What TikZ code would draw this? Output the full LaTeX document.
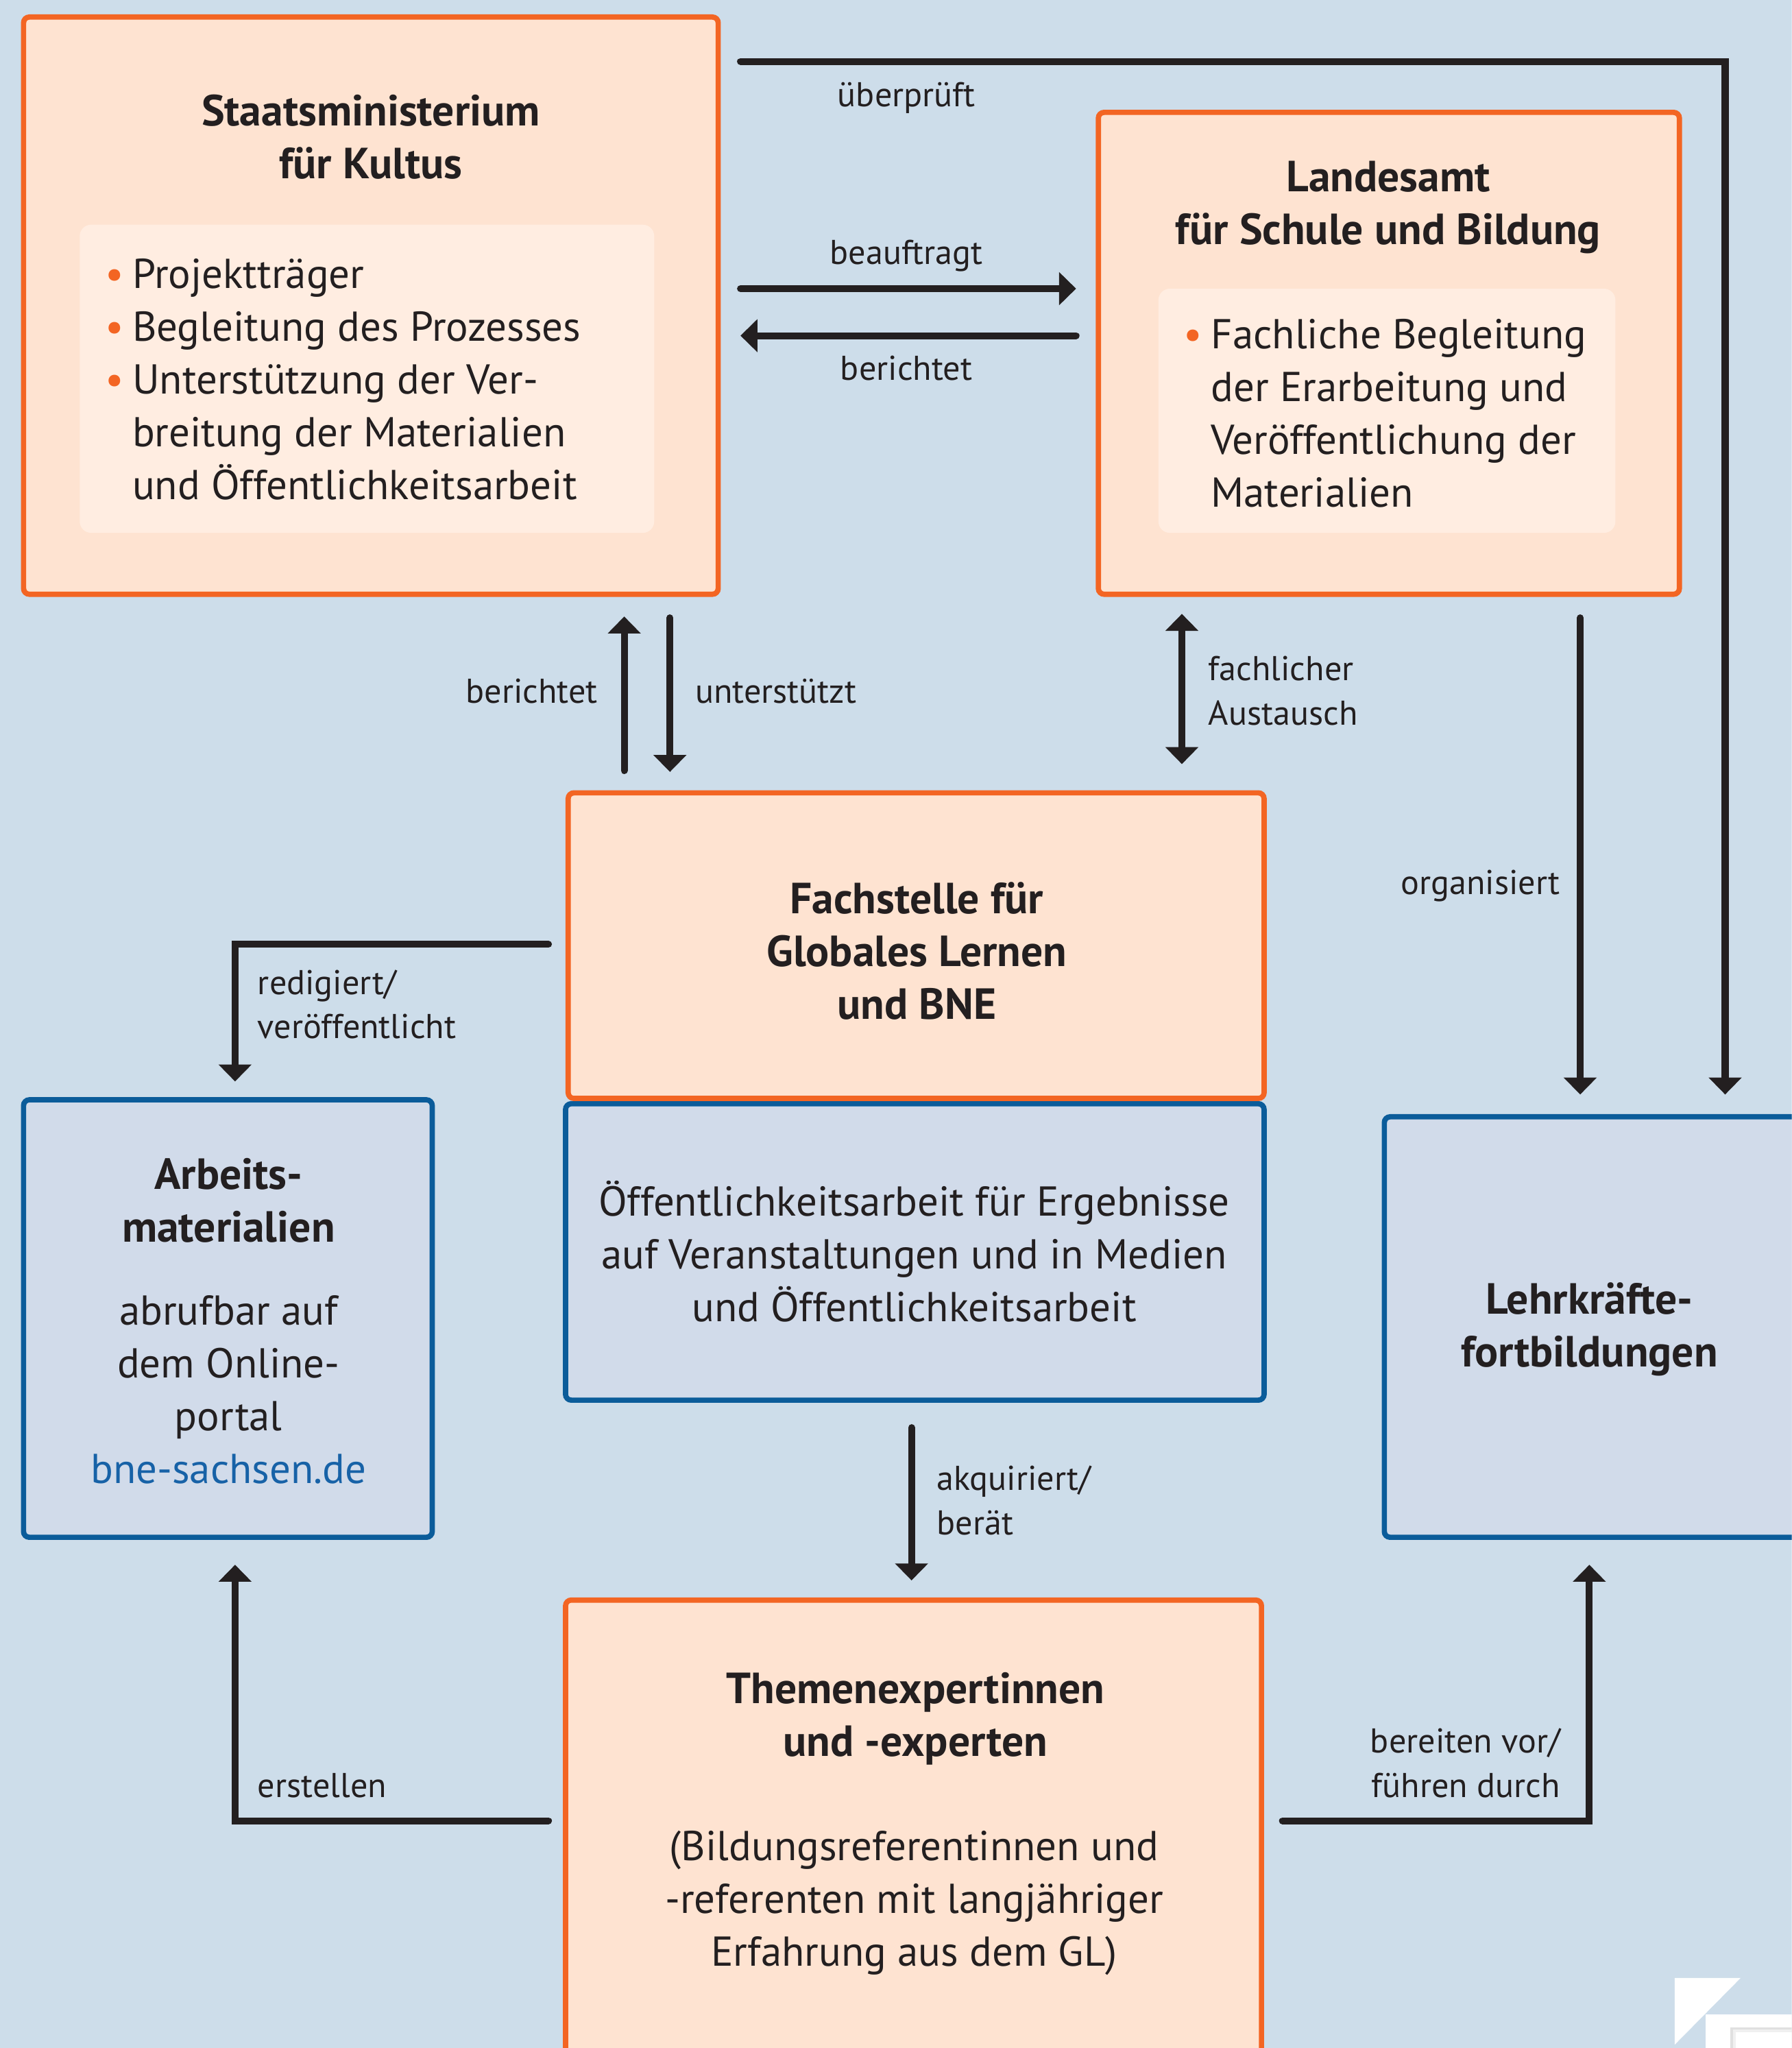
\documentclass[tikz,border=0pt]{standalone}
\usepackage{fontspec}
\setmainfont{PT Sans}
\usetikzlibrary{arrows.meta}
\definecolor{bgblue}{HTML}{CDDDEA}
\definecolor{oline}{HTML}{F36523}
\definecolor{ofill}{HTML}{FEE3D1}
\definecolor{ifill}{HTML}{FFEDE1}
\definecolor{bline}{HTML}{0B5C9A}
\definecolor{bfill}{HTML}{D1DBEA}
\definecolor{ink}{HTML}{231F20}
\definecolor{link}{HTML}{1762A7}
\newcommand\listdot{\makebox[0.42cm][l]{\textcolor{oline}{\textbullet}}}
\newcommand\listgap{\hspace*{0.42cm}}
\begin{document}
\begin{tikzpicture}[x=0.02cm,y=-0.02cm]
\tikzstyle{every node}+=[inner sep=0pt, text=ink]
\tikzstyle{obox}=[draw=oline, fill=ofill, line width=2.3pt, rounded corners=2.5pt]
\tikzstyle{bbox}=[draw=bline, fill=bfill, line width=2.3pt, rounded corners=2.5pt]
\tikzstyle{ibox}=[fill=ifill, rounded corners=5pt]
\tikzstyle{head}=[font=\bfseries\fontsize{19}{23}\selectfont, align=center]
\tikzstyle{body}=[font=\fontsize{18.2}{23}\selectfont, align=center]
\tikzstyle{list}=[font=\fontsize{18.2}{23}\selectfont, align=left, anchor=west]
\tikzstyle{lbl}=[font=\fontsize{15}{19.4}\selectfont]
\tikzstyle{conn}=[draw=ink, line width=3pt, line cap=round, >={Triangle[length=7.4pt,width=14pt]}, ->]
\useasboundingbox (0,0) rectangle (1372,1568);
\clip (0,0) rectangle (1372,1568);
\fill [bgblue] (0,0) rectangle (1372,1568);
\node [obox, minimum width=10.64cm, minimum height=8.84cm] (smk) at (284,234) {};
\node [ibox, minimum width=8.8cm, minimum height=4.72cm] (smklist) at (281,290) {};
\node [head] (smktitle) at (284,105) {Staatsministerium\\für Kultus};
\node [list] (smkitems) at (80,290.5) {\listdot Projektträger\\\listdot Begleitung des Prozesses\\\listdot Unterstützung der Ver-\\\listgap breitung der Materialien\\\listgap und Öffentlichkeitsarbeit};
\node [obox, minimum width=8.9cm, minimum height=7.38cm] (lasub) at (1063.5,270.5) {};
\node [ibox, minimum width=7cm, minimum height=3.74cm] (lasublist) at (1062,314.5) {};
\node [head] (lasubtitle) at (1063,159) {Landesamt\\für Schule und Bildung};
\node [list] (lasubitems) at (906,316.5) {\listdot Fachliche Begleitung\\\listgap der Erarbeitung und\\\listgap Veröffentlichung der\\\listgap Materialien};
\node [bbox, minimum width=10.7cm, minimum height=4.54cm] (oeff) at (700.5,958.5) {};
\node [body] (oefftext) at (700,958) {Öffentlichkeitsarbeit für Ergebnisse\\auf Veranstaltungen und in Medien\\und Öffentlichkeitsarbeit};
\node [obox, minimum width=10.66cm, minimum height=4.68cm] (fach) at (701.5,724) {};
\node [head] (fachtitle) at (702,728) {Fachstelle für\\Globales Lernen\\und BNE};
\node [bbox, minimum width=6.26cm, minimum height=6.7cm] (mat) at (174.5,1009.5) {};
\node [head] (mattitle) at (175,919) {Arbeits-\\materialien};
\node [body] (mattext) at (175,1064) {abrufbar auf\\dem Online-\\portal\\\textcolor{link}{bne-sachsen.de}};
\node [bbox, minimum width=6.5cm, minimum height=6.44cm] (fortb) at (1222.5,1016) {};
\node [head] (fortbtitle) at (1217,1018) {Lehrkräfte-\\fortbildungen};
\node [obox, minimum width=10.66cm, minimum height=7.5cm] (exp) at (699.5,1412.5) {};
\node [head] (exptitle) at (701,1316) {Themenexpertinnen\\und -experten};
\node [body] (exptext) at (700,1457) {(Bildungsreferentinnen und\\-referenten mit langjähriger\\Erfahrung aus dem GL)};
\coordinate (pruefS) at (567,47);
\coordinate (pruefE) at (1321,838);
\coordinate (auftrS) at (567,221);
\coordinate (auftrE) at (824,221);
\coordinate (berS) at (824,257);
\coordinate (berE) at (567,257);
\coordinate (upS) at (478,590);
\coordinate (upE) at (478,472);
\coordinate (unterS) at (513,473);
\coordinate (unterE) at (513,591);
\coordinate (ausS) at (905,470);
\coordinate (ausE) at (905,585);
\coordinate (orgS) at (1210,473);
\coordinate (orgE) at (1210,838);
\coordinate (redS) at (420,723);
\coordinate (redE) at (180,828);
\coordinate (akqS) at (698,1093);
\coordinate (akqE) at (698,1210);
\coordinate (erstS) at (420,1394);
\coordinate (erstE) at (180,1198);
\coordinate (bereitS) at (982,1394);
\coordinate (bereitE) at (1217,1198);
\draw [conn] (pruefS) -| (pruefE);
\draw [conn] (auftrS) -- (auftrE);
\draw [conn] (berS) -- (berE);
\draw [conn] (upS) -- (upE);
\draw [conn] (unterS) -- (unterE);
\draw [conn, <->] (ausS) -- (ausE);
\draw [conn] (orgS) -- (orgE);
\draw [conn] (redS) -| (redE);
\draw [conn] (akqS) -- (akqE);
\draw [conn] (erstS) -| (erstE);
\draw [conn] (bereitS) -| (bereitE);
\node [lbl] (lpruef) at (694,75) {überprüft};
\node [lbl] (lauftr) at (694,196) {beauftragt};
\node [lbl] (lber) at (694,282) {berichtet};
\node [lbl, anchor=east] (lup) at (458,529) {berichtet};
\node [lbl, anchor=west] (lunter) at (532,529) {unterstützt};
\node [lbl, anchor=west, align=left] (laus) at (925,529) {fachlicher\\Austausch};
\node [lbl, anchor=east] (lorg) at (1195,678) {organisiert};
\node [lbl, anchor=west, align=left] (lred) at (197,769) {redigiert/\\veröffentlicht};
\node [lbl, anchor=west, align=left] (lakq) at (717,1149) {akquiriert/\\berät};
\node [lbl, anchor=west] (lerst) at (197,1367) {erstellen};
\node [lbl, anchor=east, align=right] (lbereit) at (1195,1350) {bereiten vor/\\führen durch};
\fill [white] (1282.4,1514.4) -- (1332.8,1514.4) -- (1282.4,1565.4) -- cycle;
\fill [white] (1306,1542) rectangle (1372,1568);
\fill [black!12] (1325,1552) rectangle (1372,1568);
\fill [black!6] (1327,1554) rectangle (1372,1568);
\fill [white] (1329,1556) rectangle (1372,1568);
\end{tikzpicture}
\end{document}
